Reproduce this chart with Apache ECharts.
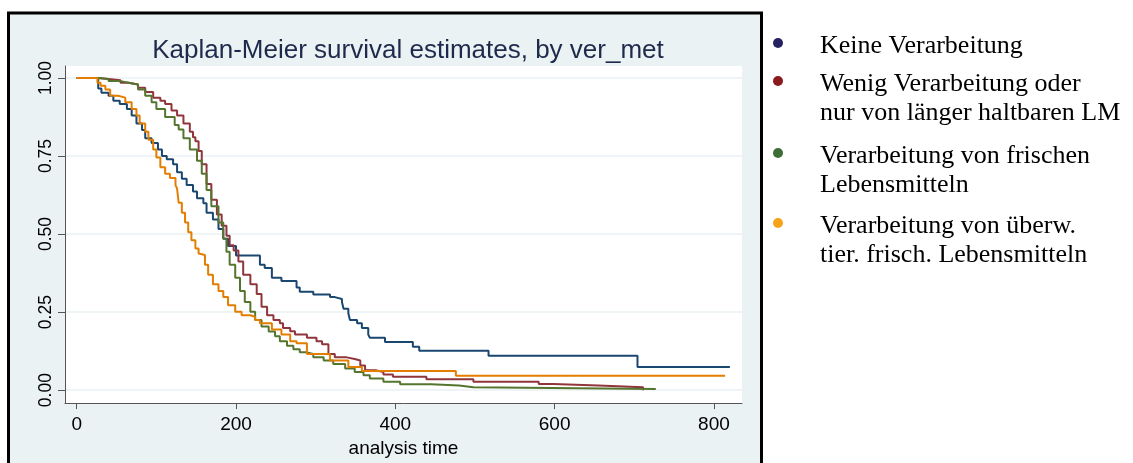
<!DOCTYPE html>
<html>
<head>
<meta charset="utf-8">
<script src="https://cdn.jsdelivr.net/npm/echarts@6/dist/echarts.min.js"></script>
<style>
  html, body { margin: 0; padding: 0; background: #ffffff; }
  #chart { width: 1133px; height: 463px; }
</style>
</head>
<body>
<div id="chart"></div>
<script>
// Kaplan-Meier survival estimates by processing method (ver_met)
const chartTitle = 'Kaplan-Meier survival estimates, by ver_met';
const timeAxisName = 'analysis time';
const timeTicks = [0, 200, 400, 600, 800];
const survivalTicks = [0, 0.25, 0.5, 0.75, 1];

const groupNames = [
  'Keine Verarbeitung',
  'Wenig Verarbeitung oder\nnur von länger haltbaren LM',
  'Verarbeitung von frischen\nLebensmitteln',
  'Verarbeitung von überw.\ntier. frisch. Lebensmitteln'
];

// [analysis time, survival probability] at each step of the estimate
const keineVerarbeitung = [
  [0, 1], [27, 0.966], [31, 0.953], [40, 0.943], [46, 0.927], [54, 0.917], [63, 0.901],
  [69, 0.880], [75, 0.854], [82, 0.833], [86, 0.807], [94, 0.792], [102, 0.771],
  [107, 0.750], [113, 0.740], [121, 0.724], [126, 0.698], [132, 0.677], [138, 0.657],
  [146, 0.636], [151, 0.615], [159, 0.599], [163, 0.568], [171, 0.547], [178, 0.516],
  [184, 0.485], [190, 0.462], [200, 0.431], [230, 0.402], [236, 0.391], [245, 0.360],
  [257, 0.350], [276, 0.329], [280, 0.315], [297, 0.306], [318, 0.298], [324, 0.292],
  [333, 0.282], [335, 0.261], [341, 0.246], [343, 0.225], [352, 0.214], [358, 0.199],
  [366, 0.178], [368, 0.168], [387, 0.154], [422, 0.139], [430, 0.126], [517, 0.110],
  [704, 0.074], [820, 0.074]
];
const wenigVerarbeitung = [
  [0, 1], [27, 0.997], [40, 0.993], [55, 0.985], [65, 0.979], [77, 0.969], [86, 0.955],
  [96, 0.937], [105, 0.927], [111, 0.917], [119, 0.896], [126, 0.880], [134, 0.854],
  [142, 0.828], [146, 0.810], [149, 0.797], [153, 0.766], [157, 0.724], [163, 0.660],
  [169, 0.610], [176, 0.563], [182, 0.527], [188, 0.495], [192, 0.464], [197, 0.447],
  [203, 0.412], [209, 0.370], [218, 0.339], [226, 0.308], [232, 0.267], [239, 0.240],
  [247, 0.225], [255, 0.214], [259, 0.199], [268, 0.189], [274, 0.178], [289, 0.168],
  [301, 0.157], [308, 0.147], [316, 0.116], [324, 0.105], [339, 0.100], [349, 0.095],
  [356, 0.079], [362, 0.064], [375, 0.058], [385, 0.050], [397, 0.043], [439, 0.035],
  [498, 0.027], [580, 0.020], [598, 0.015], [655, 0.009], [711, 0]
];
const frischeLebensmittel = [
  [0, 1], [27, 0.997], [40, 0.990], [55, 0.985], [65, 0.979], [77, 0.963], [86, 0.943],
  [94, 0.922], [100, 0.901], [111, 0.875], [123, 0.849], [128, 0.835], [134, 0.807],
  [142, 0.771], [151, 0.735], [157, 0.693], [163, 0.641], [169, 0.589], [178, 0.537],
  [184, 0.485], [188, 0.443], [192, 0.402], [199, 0.360], [205, 0.318], [211, 0.282],
  [218, 0.251], [224, 0.225], [232, 0.204], [241, 0.188], [249, 0.173], [255, 0.157],
  [264, 0.142], [272, 0.131], [280, 0.121], [289, 0.116], [297, 0.105], [310, 0.095],
  [322, 0.084], [337, 0.069], [349, 0.058], [360, 0.048], [368, 0.037], [385, 0.027],
  [406, 0.019], [445, 0.015], [480, 0.009], [498, 0.004], [727, 0.004]
];
const tierischFrisch = [
  [0, 1], [26, 0.985], [30, 0.975], [36, 0.963], [42, 0.943], [52, 0.937], [61, 0.922],
  [69, 0.901], [75, 0.880], [79, 0.854], [86, 0.828], [90, 0.802], [96, 0.771],
  [100, 0.745], [105, 0.714], [111, 0.693], [117, 0.680], [124, 0.657], [126, 0.646],
  [128, 0.600], [132, 0.568], [136, 0.537], [140, 0.506], [144, 0.480], [149, 0.454],
  [153, 0.438], [155, 0.433], [161, 0.402], [165, 0.370], [171, 0.339], [178, 0.318],
  [184, 0.298], [190, 0.272], [199, 0.251], [207, 0.240], [218, 0.235], [224, 0.225],
  [230, 0.214], [245, 0.194], [257, 0.178], [268, 0.157], [276, 0.150], [289, 0.116],
  [318, 0.095], [341, 0.074], [358, 0.061], [476, 0.046], [814, 0.046]
];

const groupData = [keineVerarbeitung, wenigVerarbeitung, frischeLebensmittel, tierischFrisch];
const lineColors = ['#1a476f', '#90353b', '#55752f', '#e37e00'];
const legendDotColors = ['#262262', '#8b1a1f', '#3c6e35', '#f7a21b'];

const SANS = '"Liberation Sans", Arial, Helvetica, sans-serif';
const SERIF = '"Liberation Serif", "Times New Roman", serif';

// legend drawn beside the framed graph: a dot and one text element per line
const legendItemY = [46, 84, 156, 226];
const legendLineHeight = 29;
const legendGraphics = [];
groupNames.forEach((name, i) => {
  legendGraphics.push({
    type: 'circle',
    shape: { cx: 778, cy: legendItemY[i] - 3, r: 5 },
    style: { fill: legendDotColors[i] },
    silent: true
  });
  name.split('\n').forEach((line, j) => {
    legendGraphics.push({
      type: 'text',
      x: 820,
      y: legendItemY[i] + j * legendLineHeight,
      style: {
        text: line,
        font: '26px ' + SERIF,
        fill: '#000000',
        align: 'left',
        verticalAlign: 'middle'
      },
      silent: true
    });
  });
});

const chart = echarts.init(document.getElementById('chart'), null, { renderer: 'canvas' });

chart.setOption({
  animation: false,
  backgroundColor: '#ffffff',
  title: {
    text: chartTitle,
    left: 403,
    top: 33,
    textAlign: 'center',
    textStyle: { fontFamily: SANS, fontSize: 26, fontWeight: 'normal', color: '#1e2a4c' }
  },
  graphic: [
    {
      type: 'rect',
      z: -100,
      shape: { x: 8.5, y: 13, width: 753, height: 470 },
      style: { fill: '#eaf2f3', stroke: '#000000', lineWidth: 3 },
      silent: true
    }
  ].concat(legendGraphics),
  grid: {
    left: 65, right: 391, top: 66, bottom: 51,
    show: true, backgroundColor: '#ffffff', borderWidth: 0
  },
  xAxis: {
    type: 'value',
    min: -14.7,
    max: 835.2,
    name: timeAxisName,
    nameLocation: 'middle',
    nameGap: 30,
    nameTextStyle: { fontFamily: SANS, fontSize: 19, color: '#000000' },
    axisLine: { show: true, onZero: false, lineStyle: { color: '#555555', width: 1 } },
    axisTick: { show: true, customValues: timeTicks, length: 6, lineStyle: { color: '#555555' } },
    axisLabel: { customValues: timeTicks, fontFamily: SANS, fontSize: 19, color: '#000000', margin: 12 },
    splitLine: { show: false }
  },
  yAxis: {
    type: 'value',
    min: -0.0415,
    max: 1.0384,
    axisLine: { show: true, onZero: false, lineStyle: { color: '#555555', width: 1 } },
    axisTick: { show: true, customValues: survivalTicks, length: 7, lineStyle: { color: '#555555' } },
    axisLabel: {
      customValues: survivalTicks,
      rotate: 90,
      fontFamily: SANS, fontSize: 17.5, color: '#000000', margin: 10,
      formatter: v => v.toFixed(2)
    },
    splitLine: { show: true, lineStyle: { color: '#eaf2f3', width: 1.5 } }
  },
  series: groupData.map((data, i) => ({
    name: groupNames[i],
    type: 'line',
    step: 'end',
    data: data,
    showSymbol: false,
    symbol: 'none',
    lineStyle: { color: lineColors[i], width: 2 },
    itemStyle: { color: lineColors[i] },
    silent: true
  }))
});
</script>
</body>
</html>
